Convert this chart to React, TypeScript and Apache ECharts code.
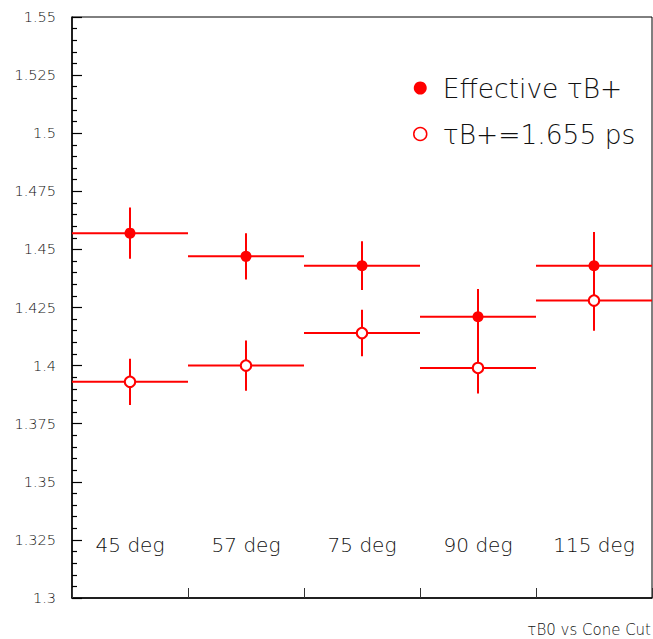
import React, { useEffect, useRef } from "react";
import * as echarts from "echarts";

const categories = ["45 deg", "57 deg", "75 deg", "90 deg", "115 deg"];
const effectiveValues = [1.457, 1.447, 1.443, 1.421, 1.443];
const effectiveErrors = [0.011, 0.01, 0.0105, 0.012, 0.0145];
const fixedValues = [1.393, 1.4, 1.414, 1.399, 1.428];
const fixedErrors = [0.01, 0.0108, 0.01, 0.011, 0.013];
const yTicks = { min: 1.3, max: 1.55, interval: 0.025 };
const seriesNames = ["Effective \u03c4B+", "\u03c4B+=1.655 ps"];
const caption = "\u03c4B0 vs Cone Cut";

const RED = "#ff0000";
const FONT = "DejaVu Sans";
const TEXT = "#111";

function makeRender(filled: boolean) {
  return (params: any, api: any) => {
    const i = api.value(0);
    const v = api.value(1);
    const e = api.value(2);
    const c = api.coord([i, v]);
    const hi = api.coord([i, v + e]);
    const lo = api.coord([i, v - e]);
    const w = api.size([1, 0])[0];
    const lineStyle = { stroke: RED, lineWidth: 2 };
    return {
      type: "group",
      children: [
        { type: "line", shape: { x1: c[0] - w / 2, y1: c[1], x2: c[0] + w / 2, y2: c[1] }, style: lineStyle },
        { type: "line", shape: { x1: c[0], y1: hi[1], x2: c[0], y2: lo[1] }, style: lineStyle },
        {
          type: "circle",
          shape: { cx: c[0], cy: c[1], r: filled ? 5.5 : 5.2 },
          style: filled ? { fill: RED } : { fill: "#ffffff", stroke: RED, lineWidth: 2 },
        },
      ],
    };
  };
}

export default function App() {
  const ref = useRef<HTMLDivElement>(null);
  useEffect(() => {
    if (!ref.current) return;
    const chart = echarts.init(ref.current, undefined, { renderer: "svg" });
    const effData = effectiveValues.map((v, i) => [i, v, effectiveErrors[i]]);
    const fixData = fixedValues.map((v, i) => [i, v, fixedErrors[i]]);
    chart.setOption({
      animation: false,
      backgroundColor: "#ffffff",
      textStyle: { fontFamily: FONT },
      grid: {
        left: 72,
        right: 1,
        top: 17,
        bottom: 41,
        show: true,
        borderColor: "#000",
        borderWidth: 1,
        backgroundColor: "transparent",
      },
      legend: {
        left: 413,
        top: 73,
        orient: "vertical",
        itemWidth: 13,
        itemHeight: 13,
        itemGap: 16,
        padding: 0,
        textStyle: {
          fontFamily: FONT,
          fontWeight: 200,
          fontSize: 26.5,
          color: TEXT,
          lineHeight: 30,
          padding: [0, 0, 0, 11],
        },
        data: [
          { name: seriesNames[0], icon: "circle", itemStyle: { color: RED, borderWidth: 0 } },
          { name: seriesNames[1], icon: "circle", itemStyle: { color: "#fff", borderColor: RED, borderWidth: 1.5 } },
        ],
      },
      graphic: [
        {
          type: "text",
          right: 2,
          top: 622,
          style: { text: caption, fontFamily: FONT, fontWeight: 200, fontSize: 15, fill: TEXT },
        },
      ],
      xAxis: {
        type: "category",
        data: categories,
        boundaryGap: true,
        axisLine: { show: true, lineStyle: { color: "#000", width: 1.5 } },
        axisTick: { show: true, inside: true, length: 10, alignWithLabel: false, lineStyle: { color: "#333", width: 1 } },
        axisLabel: {
          inside: true,
          margin: 43,
          fontFamily: FONT,
          fontWeight: 200,
          fontSize: 20,
          color: TEXT,
        },
        splitLine: { show: false },
      },
      yAxis: {
        type: "value",
        min: yTicks.min,
        max: yTicks.max,
        interval: yTicks.interval,
        axisLine: { show: true, lineStyle: { color: "#000", width: 1.5 } },
        axisTick: { show: true, inside: true, length: 10, lineStyle: { color: "#000", width: 1.2 } },
        minorTick: { show: true, splitNumber: 5, length: 5, lineStyle: { color: "#000", width: 1.2 } },
        axisLabel: {
          margin: 16,
          fontFamily: FONT,
          fontWeight: 200,
          fontSize: 14.5,
          color: TEXT,
          formatter: (v: number) => String(parseFloat(v.toFixed(3))),
        },
        splitLine: { show: false },
        minorSplitLine: { show: false },
      },
      series: [
        {
          name: seriesNames[0],
          type: "custom",
          renderItem: makeRender(true),
          data: effData,
          encode: { x: 0, y: 1 },
          z: 2,
        },
        {
          name: seriesNames[1],
          type: "custom",
          renderItem: makeRender(false),
          data: fixData,
          encode: { x: 0, y: 1 },
          z: 3,
        },
      ],
    });
    return () => chart.dispose();
  }, []);
  return (
    <div
      ref={ref}
      style={{ position: "fixed", left: 0, top: 0, width: 653, height: 639 }}
    />
  );
}
